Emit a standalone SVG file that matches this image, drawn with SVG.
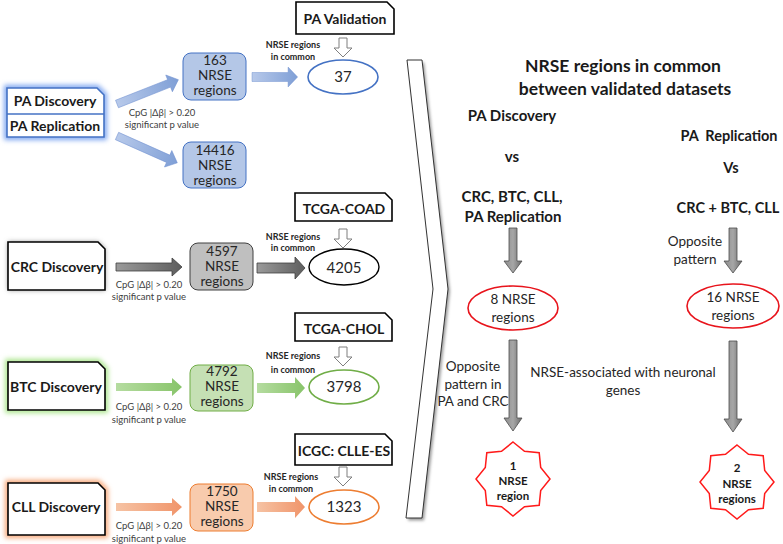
<svg xmlns="http://www.w3.org/2000/svg" width="783" height="544" viewBox="0 0 783 544">
<defs>
<style>
text{font-family:Lato,"Open Sans","Liberation Sans",sans-serif;fill:#1a1a1a}
.disc{font-size:14px;font-weight:bold;text-anchor:middle}
.val{font-size:14px;font-weight:bold;text-anchor:middle}
.box{font-size:13.5px;text-anchor:middle;fill:#262626}
.cpg{font-size:9.5px;text-anchor:middle;fill:#404040}
.com{font-size:9px;font-weight:bold;text-anchor:middle;fill:#262626}
.num{font-size:15px;text-anchor:middle;fill:#262626}
.h{font-size:17.5px;font-weight:bold;text-anchor:middle}
.hs{font-size:15px;font-weight:bold;text-anchor:middle}
.hr{font-size:14.5px;font-weight:bold;text-anchor:middle}
.n{font-size:13.5px;text-anchor:middle;fill:#262626}
.st{font-size:11.5px;font-weight:bold;text-anchor:middle}
.snip{fill:#fff;stroke:#000;stroke-width:1.6}
.hollow{fill:#fff;stroke:#7f7f7f;stroke-width:1}
</style>
<filter id="glow" x="-20%" y="-30%" width="140%" height="160%"><feGaussianBlur stdDeviation="2.5"/></filter>
<filter id="sh" x="-20%" y="-30%" width="140%" height="160%"><feGaussianBlur stdDeviation="1.5"/></filter>
<linearGradient id="gBlue" x1="0" y1="0" x2="1" y2="0"><stop offset="0" stop-color="#b7c9ea"/><stop offset="1" stop-color="#7f9fd6"/></linearGradient>
<linearGradient id="gGray" x1="0" y1="0" x2="1" y2="0"><stop offset="0" stop-color="#9a9a9a"/><stop offset="1" stop-color="#5e5e5e"/></linearGradient>
<linearGradient id="gGrayV" x1="0" y1="0" x2="1" y2="0"><stop offset="0" stop-color="#8c8c8c"/><stop offset="0.5" stop-color="#a6a6a6"/><stop offset="1" stop-color="#6b6b6b"/></linearGradient>
<linearGradient id="gGreen" x1="0" y1="0" x2="1" y2="0"><stop offset="0" stop-color="#b5dca0"/><stop offset="1" stop-color="#88c46a"/></linearGradient>
<linearGradient id="gOrange" x1="0" y1="0" x2="1" y2="0"><stop offset="0" stop-color="#f6c3a4"/><stop offset="1" stop-color="#f0946a"/></linearGradient>
<path id="arrL" d="M0,-4 H56 V-9 L66,0 L56,9 V4 H0 Z"/>
<path id="arrR" d="M0,-5 H38 V-11 L48,0 L38,11 V5 H0 Z"/>
<path id="hol" d="M-4,0 H4 V10 H9 L0,19 L-9,10 H-4 Z"/>
<path id="star" d="M0,-37 L11.5,-27.7 L26.2,-26.2 L27.7,-11.5 L37,0 L27.7,11.5 L26.2,26.2 L11.5,27.7 L0,37 L-11.5,27.7 L-26.2,26.2 L-27.7,11.5 L-37,0 L-27.7,-11.5 L-26.2,-26.2 L-11.5,-27.7 Z"/>
<path id="vArr" d="M-4,0 H4 V33 H9 L0,45 L-9,33 H-4 Z"/>
<path id="vArr2" d="M-4,0 H4 V78 H9 L0,91 L-9,78 H-4 Z"/>
</defs>

<rect width="783" height="544" fill="#fff"/>

<!-- chevron separator -->
<g id="chevron">
<polygon points="408,61 423,61 449,290 423,519 407,519 434,290" fill="#999" filter="url(#sh)" transform="translate(1,1.5)"/>
<polygon points="407,60 422,60 448,289 422,518 406,518 433,289" fill="#fff" stroke="#333" stroke-width="1"/>
</g>

<!-- PA row -->
<g id="pa-discovery">
<path d="M7,88 H97 L104,95 V137 H7 Z" fill="none" stroke="#7ea6f0" stroke-width="6" filter="url(#glow)"/>
<path d="M7,88 H97 L104,95 V137 H7 Z" fill="#fff" stroke="#4472c4" stroke-width="1.6"/>
<line x1="7" y1="114" x2="104" y2="114" stroke="#4472c4" stroke-width="1.6"/>
<text class="disc" x="55" y="106">PA Discovery</text>
<text class="disc" x="55" y="131">PA Replication</text>
</g>
<g id="pa-163">
<rect x="183" y="53" width="63" height="47" rx="8" fill="#b4c7e7" stroke="#4472c4" stroke-width="1"/>
<text class="box" x="215" y="65">163</text>
<text class="box" x="215" y="80">NRSE</text>
<text class="box" x="215" y="95">regions</text>
</g>
<g id="pa-14416">
<rect x="183" y="142" width="63" height="46" rx="8" fill="#b4c7e7" stroke="#4472c4" stroke-width="1"/>
<text class="box" x="215" y="155">14416</text>
<text class="box" x="215" y="170">NRSE</text>
<text class="box" x="215" y="185">regions</text>
</g>
<g id="pa-validation">
<path d="M296,2 H387 L394,9 V34 H296 Z" class="snip"/>
<text class="val" x="345" y="24">PA Validation</text>
</g>
<g id="pa-37">
<ellipse cx="343" cy="77" rx="35" ry="17" fill="#fff" stroke="#4472c4" stroke-width="1.6"/>
<text class="num" x="343" y="82">37</text>
</g>

<!-- CRC row -->
<g id="crc-discovery">
<path d="M8,242 H98 L105,249 V290 H8 Z" fill="#888" filter="url(#glow)"/>
<path d="M8,242 H98 L105,249 V290 H8 Z" class="snip"/>
<text class="disc" x="57" y="272">CRC Discovery</text>
</g>
<g id="crc-4597">
<rect x="190" y="243" width="63" height="47" rx="8" fill="#bfbfbf" stroke="#404040" stroke-width="1"/>
<text class="box" x="222" y="256">4597</text>
<text class="box" x="222" y="271">NRSE</text>
<text class="box" x="222" y="286">regions</text>
</g>
<g id="tcga-coad">
<path d="M295,193 H385 L392,200 V221 H295 Z" class="snip"/>
<text class="val" x="344" y="214">TCGA-COAD</text>
</g>
<g id="crc-4205">
<ellipse cx="344" cy="267" rx="35" ry="18" fill="#fff" stroke="#000" stroke-width="1.4"/>
<text class="num" x="344" y="273">4205</text>
</g>

<!-- BTC row -->
<g id="btc-discovery">
<path d="M8,362 H98 L105,369 V410 H8 Z" fill="none" stroke="#a9e58a" stroke-width="6" filter="url(#glow)"/>
<path d="M8,362 H98 L105,369 V410 H8 Z" class="snip"/>
<text class="disc" x="56" y="392">BTC Discovery</text>
</g>
<g id="btc-4792">
<rect x="190" y="365" width="63" height="46" rx="8" fill="#c5e0b4" stroke="#70ad47" stroke-width="1"/>
<text class="box" x="222" y="376">4792</text>
<text class="box" x="222" y="391">NRSE</text>
<text class="box" x="222" y="406">regions</text>
</g>
<g id="tcga-chol">
<path d="M295,313 H385 L392,320 V341 H295 Z" class="snip"/>
<text class="val" x="344" y="334">TCGA-CHOL</text>
</g>
<g id="btc-3798">
<ellipse cx="344" cy="387" rx="35" ry="17" fill="#fff" stroke="#70ad47" stroke-width="1.6"/>
<text class="num" x="344" y="392">3798</text>
</g>

<!-- CLL row -->
<g id="cll-discovery">
<path d="M8,483 H98 L105,490 V535 H8 Z" fill="none" stroke="#f7a574" stroke-width="6" filter="url(#glow)"/>
<path d="M8,483 H98 L105,490 V535 H8 Z" class="snip"/>
<text class="disc" x="56" y="512">CLL Discovery</text>
</g>
<g id="cll-1750">
<rect x="190" y="484" width="63" height="47" rx="8" fill="#f8cbad" stroke="#ed7d31" stroke-width="1"/>
<text class="box" x="222" y="496">1750</text>
<text class="box" x="222" y="511">NRSE</text>
<text class="box" x="222" y="526">regions</text>
</g>
<g id="icgc-clle">
<path d="M295,434 H385 L392,441 V465 H295 Z" class="snip"/>
<text class="val" x="344" y="456">ICGC: CLLE-ES</text>
</g>
<g id="cll-1323">
<ellipse cx="344" cy="507" rx="35" ry="17" fill="#fff" stroke="#ed7d31" stroke-width="1.6"/>
<text class="num" x="344" y="512">1323</text>
</g>

<!-- right panel -->
<g id="summary-title">
<text class="h" x="623" y="72">NRSE regions in common</text>
<text class="h" x="625" y="95">between validated datasets</text>
</g>
<g id="left-comparison">
<text class="hs" x="512" y="121">PA Discovery</text>
<text class="hs" x="512" y="162">vs</text>
<text class="hs" x="512" y="202">CRC, BTC, CLL,</text>
<text class="hs" x="513" y="222">PA Replication</text>
</g>
<g id="right-comparison">
<text class="hr" x="729" y="141" xml:space="preserve">PA  Replication</text>
<text class="hr" x="731" y="173">Vs</text>
<text class="hr" x="728" y="213">CRC + BTC, CLL</text>
</g>
<g id="ell-8">
<ellipse cx="513" cy="308" rx="45" ry="22" fill="#fff" stroke="#e8141c" stroke-width="1.6"/>
<text class="n" x="513" y="304">8 NRSE</text>
<text class="n" x="513" y="322">regions</text>
</g>
<g id="ell-16">
<ellipse cx="733" cy="306" rx="46" ry="22" fill="#fff" stroke="#e8141c" stroke-width="1.6"/>
<text class="n" x="733" y="302">16 NRSE</text>
<text class="n" x="733" y="320">regions</text>
</g>
<g id="star-1">
<use href="#star" x="513" y="479" fill="#fff" stroke="#ff1a1a" stroke-width="1.5"/>
<text class="st" x="513" y="470">1</text>
<text class="st" x="513" y="485">NRSE</text>
<text class="st" x="513" y="500">region</text>
</g>
<g id="star-2">
<use href="#star" x="737" y="482" fill="#fff" stroke="#ff1a1a" stroke-width="1.5"/>
<text class="st" x="737" y="472">2</text>
<text class="st" x="737" y="488">NRSE</text>
<text class="st" x="737" y="503">regions</text>
</g>

<!-- connectors -->
<g id="connectors">
<use href="#arrL" transform="translate(117,104) rotate(-21.6)" fill="url(#gBlue)" stroke="#6f8fd0" stroke-width="0.5"/>
<use href="#arrL" transform="translate(117,136) rotate(24)" fill="url(#gBlue)" stroke="#6f8fd0" stroke-width="0.5"/>
<use href="#arrR" transform="translate(252,77) scale(0.95,0.9)" fill="url(#gBlue)" stroke="#6f8fd0" stroke-width="0.5"/>
<use href="#arrL" x="116" y="267" fill="url(#gGray)" stroke="#3f3f3f" stroke-width="0.8"/>
<use href="#arrR" x="257" y="268" fill="url(#gGray)" stroke="#3f3f3f" stroke-width="0.8"/>
<use href="#arrL" x="116" y="387" fill="url(#gGreen)"/>
<use href="#arrR" x="257" y="388" fill="url(#gGreen)"/>
<use href="#arrL" x="116" y="507" fill="url(#gOrange)"/>
<use href="#arrR" x="257" y="507" fill="url(#gOrange)"/>
<use href="#hol" x="343" y="38" class="hollow"/>
<use href="#hol" x="343" y="229" class="hollow"/>
<use href="#hol" x="343" y="347" class="hollow"/>
<use href="#hol" x="343" y="467" class="hollow"/>
<use href="#vArr" x="513" y="228" fill="url(#gGrayV)" stroke="#4d4d4d" stroke-width="0.8"/>
<use href="#vArr" x="733" y="228" fill="url(#gGrayV)" stroke="#4d4d4d" stroke-width="0.8"/>
<use href="#vArr2" x="513" y="340" fill="url(#gGrayV)" stroke="#4d4d4d" stroke-width="0.8"/>
<use href="#vArr2" x="733" y="341" fill="url(#gGrayV)" stroke="#4d4d4d" stroke-width="0.8"/>
</g>

<!-- connector labels -->
<g id="labels">
<text class="cpg" x="162" y="116">CpG |Δβ| &gt; 0.20</text>
<text class="cpg" x="162" y="128">significant p value</text>
<text class="cpg" x="149" y="288">CpG |Δβ| &gt; 0.20</text>
<text class="cpg" x="149" y="300">significant p value</text>
<text class="cpg" x="149" y="410">CpG |Δβ| &gt; 0.20</text>
<text class="cpg" x="149" y="423">significant p value</text>
<text class="cpg" x="149" y="529">CpG |Δβ| &gt; 0.20</text>
<text class="cpg" x="149" y="542">significant p value</text>
<text class="com" x="293" y="48">NRSE regions</text>
<text class="com" x="293" y="60">in common</text>
<text class="com" x="293" y="240">NRSE regions</text>
<text class="com" x="293" y="251">in common</text>
<text class="com" x="293" y="359">NRSE regions</text>
<text class="com" x="293" y="373">in common</text>
<text class="com" x="291" y="480">NRSE regions</text>
<text class="com" x="291" y="492">in common</text>
<text class="n" x="695" y="246">Opposite</text>
<text class="n" x="695" y="264">pattern</text>
<text class="n" x="473" y="371">Opposite</text>
<text class="n" x="473" y="389">pattern in</text>
<text class="n" x="473" y="406">PA and CRC</text>
<text class="n" x="623" y="377">NRSE-associated with neuronal</text>
<text class="n" x="623" y="395">genes</text>
</g>
</svg>
